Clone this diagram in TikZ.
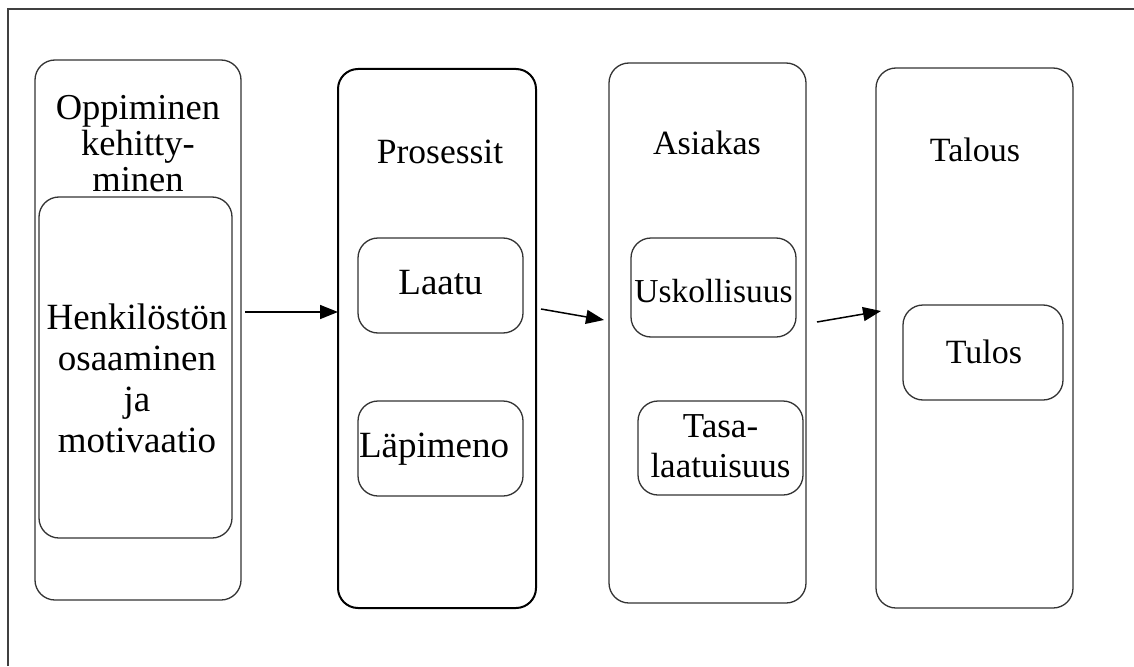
\documentclass[tikz,border=0pt]{standalone}
\usepackage{fontspec}
\setmainfont{Liberation Serif}
\usetikzlibrary{arrows.meta}
\begin{document}
\begin{tikzpicture}[x=1pt,y=-1pt,
  box/.style={draw=black!80,line width=1.3pt,rounded corners=20pt,inner sep=0pt,outer sep=0pt},
  thickbox/.style={box,draw=black,line width=2pt},
  lbl/.style={font=\fontsize{34}{40}\selectfont,align=center,inner sep=0pt},
  big/.style={font=\fontsize{37}{41}\selectfont},
  arr/.style={line width=1.5pt,-{Triangle[length=18pt,width=14pt]}}]
\useasboundingbox (0,0) rectangle (1134,666);
% frame
\coordinate (fa) at (8,666);
\coordinate (fb) at (8,9);
\coordinate (fc) at (1134,9);
\draw[line width=1.5pt,black!75] (fa) -- (fb) -- (fc);
% column 1
\node[box,minimum width=206pt,minimum height=540pt] (o1) at (138,330) {};
\node[box,minimum width=193pt,minimum height=341pt] (i1) at (135.5,367.5) {};
\node[lbl,font=\fontsize{36.5}{36}\selectfont] (t1) at (138,144) {Oppiminen\\kehitty-\\minen};
\node[lbl,big] (h1) at (137,378) {Henkilöstön\\osaaminen\\ja\\motivaatio};
% column 2
\node[thickbox,minimum width=198pt,minimum height=539pt] (o2) at (437,338.5) {};
\node[lbl,font=\fontsize{35.5}{40}\selectfont] (t2) at (440,152) {Prosessit};
\node[box,minimum width=165pt,minimum height=95pt] (laatu) at (440.5,285.5) {};
\node[lbl,big] (l2) at (440.5,283) {Laatu};
\node[box,minimum width=165pt,minimum height=95pt] (lapi) at (440.5,448.5) {};
\node[lbl,big] (p2) at (434,449) {Läpimeno};
% column 3
\node[box,minimum width=197pt,minimum height=540pt] (o3) at (707.5,333) {};
\node[lbl] (t3) at (707,143) {Asiakas};
\node[box,minimum width=165pt,minimum height=99pt] (usk) at (713.5,287.5) {};
\node[lbl,font=\fontsize{33.5}{40}\selectfont] (u3) at (713.5,291) {Uskollisuus};
\node[box,minimum width=165pt,minimum height=94pt] (tasa) at (720.5,448) {};
\node[lbl,font=\fontsize{35}{40}\selectfont] (s3) at (720.5,446) {Tasa-\\laatuisuus};
% column 4
\node[box,minimum width=197pt,minimum height=540pt] (o4) at (974.5,338) {};
\node[lbl] (t4) at (975,150) {Talous};
\node[box,minimum width=160pt,minimum height=95pt] (tulos) at (983,352.5) {};
\node[lbl] (r4) at (984,352) {Tulos};
% arrows
\coordinate (a1s) at (245,312);
\coordinate (a1e) at (338,312);
\coordinate (a2s) at (541,309);
\coordinate (a2e) at (604,320);
\coordinate (a3s) at (817,322);
\coordinate (a3e) at (881,311);
\draw[arr] (a1s) -- (a1e);
\draw[arr] (a2s) -- (a2e);
\draw[arr] (a3s) -- (a3e);
\end{tikzpicture}
\end{document}
